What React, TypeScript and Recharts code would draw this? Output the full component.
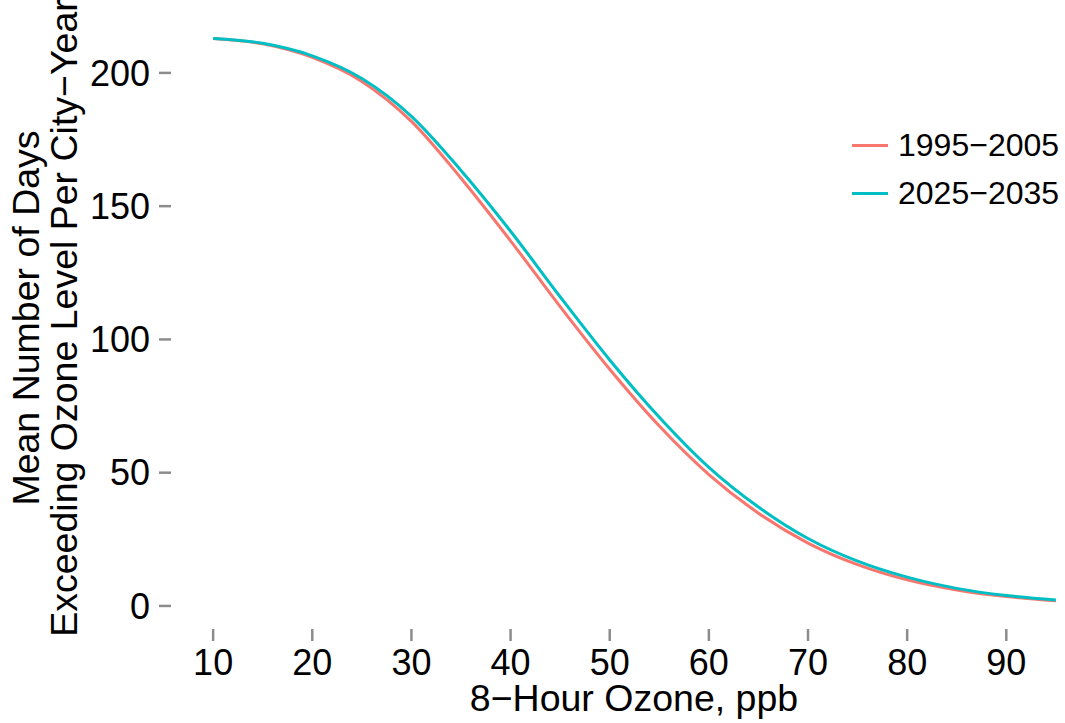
import { LineChart, Line, XAxis, YAxis, Label } from 'recharts';

// 8-hour ozone level (ppb)
const ozone = [10, 15, 20, 25, 30, 35, 40, 45, 50, 55, 60, 65, 70, 75, 80, 85, 90, 95];
// mean number of days exceeding the level, per city-year
const days1995 = [212.9, 210.9, 205.8, 196.8, 181.8, 160.5, 137.0, 112.3, 88.8, 67.5, 49.3, 34.8, 23.6, 15.5, 9.8, 6.0, 3.5, 1.9];
const days2025 = [212.9, 211.1, 206.4, 197.9, 183.7, 163.4, 140.6, 116.0, 92.3, 70.8, 52.0, 37.1, 25.3, 16.8, 10.8, 6.6, 3.9, 2.2];
const xTicks = [10, 20, 30, 40, 50, 60, 70, 80, 90];
const yTicks = [0, 50, 100, 150, 200];

const series = [
  { key: 'p1995', name: '1995\u22122005', color: '#F8766D', values: days1995 },
  { key: 'p2025', name: '2025\u22122035', color: '#00BFC4', values: days2025 },
];

const data = ozone.map((x, i) => ({ ozone: x, p1995: days1995[i], p2025: days2025[i] }));

const FONT = '"Liberation Sans", Arial, Helvetica, sans-serif';

export default function App() {
  return (
    <div style={{ position: 'absolute', left: 0, top: 0, width: 1065, height: 723, background: '#fff', fontFamily: FONT }}>
      <LineChart width={1065} height={723} data={data} margin={{ top: 10, right: 0, left: 0, bottom: 0 }}>
        <XAxis
          type="number"
          dataKey="ozone"
          domain={[5.75, 95.92]}
          ticks={xTicks}
          interval={0}
          allowDataOverflow
          height={94}
          axisLine={false}
          tickLine={{ stroke: '#8c8c8c', strokeWidth: 2.5 }}
          tickSize={12}
          tickMargin={8}
          tick={{ fill: '#000', fontSize: 36, fontFamily: FONT }}
        >
          <Label
            content={() => (
              <text x={634} y={711} textAnchor="middle" fontSize={37.5} fontFamily={FONT} fill="#000">
                8{'\u2212'}Hour Ozone, ppb
              </text>
            )}
          />
        </XAxis>
        <YAxis
          type="number"
          domain={[-8.65, 223.6]}
          ticks={yTicks}
          interval={0}
          allowDataOverflow
          width={171}
          axisLine={false}
          tickLine={{ stroke: '#8c8c8c', strokeWidth: 2.5 }}
          tickSize={12}
          tickMargin={9}
          tick={{ fill: '#000', fontSize: 36, fontFamily: FONT }}
        >
          <Label
            content={() => (
              <g fontSize={37.5} fontFamily={FONT} fill="#000">
                <text transform="translate(39,318) rotate(-90)" textAnchor="middle">Mean Number of Days</text>
                <text transform="translate(77,318) rotate(-90)" textAnchor="middle">
                  Exceeding Ozone Level Per City{'\u2212'}Year
                </text>
              </g>
            )}
          />
        </YAxis>
        {series.map((s) => (
          <Line
            key={s.key}
            type="monotone"
            dataKey={s.key}
            name={s.name}
            stroke={s.color}
            strokeWidth={3}
            dot={false}
            activeDot={false}
            isAnimationActive={false}
          />
        ))}
      </LineChart>
      <div style={{ position: 'absolute', left: 852, top: 121 }}>
        {series.map((s) => (
          <div key={s.key} style={{ display: 'flex', alignItems: 'center', height: 48 }}>
            <div style={{ width: 36, height: 3, background: s.color }} />
            <span style={{ marginLeft: 10, fontSize: 32, color: '#000', lineHeight: '48px' }}>{s.name}</span>
          </div>
        ))}
      </div>
    </div>
  );
}
